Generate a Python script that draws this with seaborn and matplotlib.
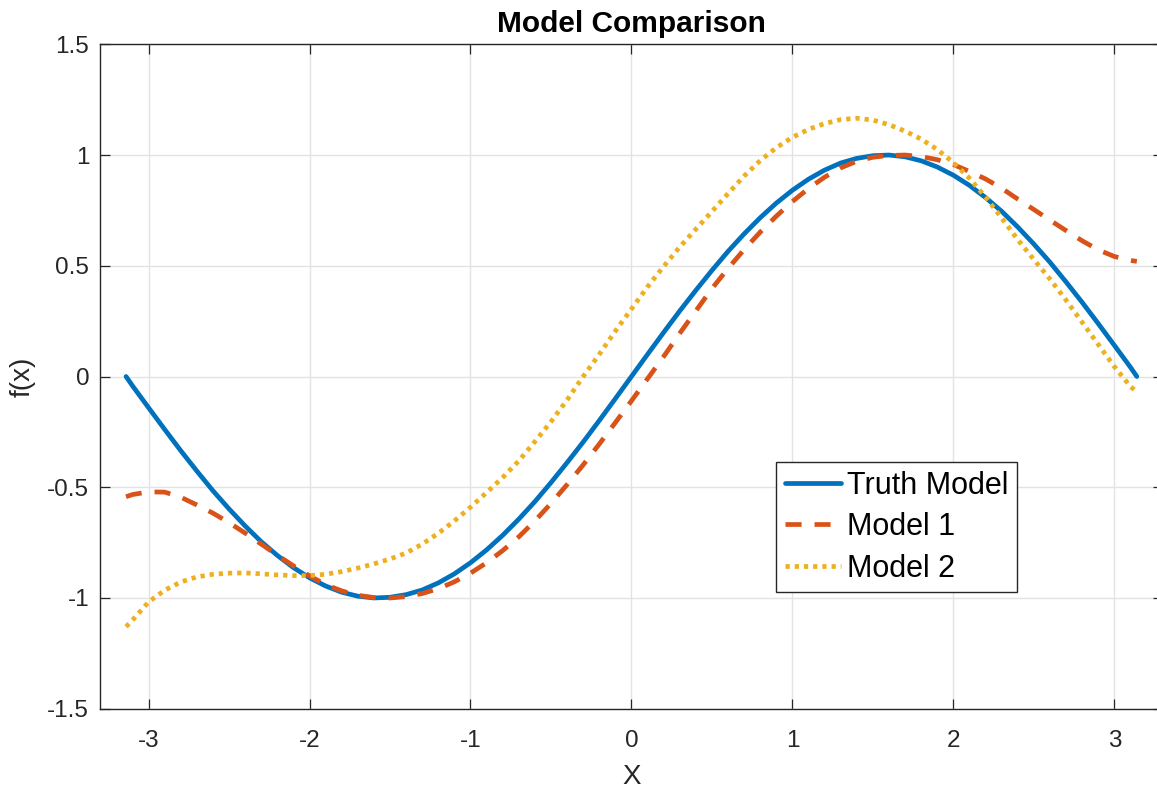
import numpy as np
import pandas as pd
import matplotlib
matplotlib.use("Agg")
import matplotlib.pyplot as plt
import seaborn as sns

# ---- data ----
x_vals = [-3.14, -3.1, -3.0, -2.9, -2.8, -2.7, -2.6, -2.5, -2.4, -2.3, -2.2, -2.1,
          -2.0, -1.9, -1.8, -1.7, -1.6, -1.5, -1.4, -1.3, -1.2, -1.1, -1.0, -0.9,
          -0.8, -0.7, -0.6, -0.5, -0.4, -0.3, -0.2, -0.1, 0.0, 0.1, 0.2, 0.3,
          0.4, 0.5, 0.6, 0.7, 0.8, 0.9, 1.0, 1.1, 1.2, 1.3, 1.4, 1.5,
          1.6, 1.7, 1.8, 1.9, 2.0, 2.1, 2.2, 2.3, 2.4, 2.5, 2.6, 2.7,
          2.8, 2.9, 3.0, 3.1, 3.14]
truth_vals = [0.0, -0.042, -0.141, -0.239, -0.335, -0.427, -0.516, -0.598, -0.675, -0.746, -0.808, -0.863,
              -0.909, -0.946, -0.974, -0.992, -1.0, -0.997, -0.985, -0.964, -0.932, -0.891, -0.841, -0.783,
              -0.717, -0.644, -0.565, -0.479, -0.389, -0.296, -0.199, -0.1, 0.0, 0.1, 0.199, 0.296,
              0.389, 0.479, 0.565, 0.644, 0.717, 0.783, 0.841, 0.891, 0.932, 0.964, 0.985, 0.997,
              1.0, 0.992, 0.974, 0.946, 0.909, 0.863, 0.808, 0.746, 0.675, 0.598, 0.516, 0.427,
              0.335, 0.239, 0.141, 0.042, 0.0]
model1_vals = [-0.543, -0.533, -0.521, -0.522, -0.545, -0.58, -0.617, -0.66, -0.707, -0.757, -0.807, -0.855,
               -0.9, -0.94, -0.968, -0.988, -0.998, -1.0, -0.994, -0.98, -0.958, -0.927, -0.888, -0.841,
               -0.786, -0.724, -0.652, -0.573, -0.488, -0.399, -0.305, -0.208, -0.11, -0.01, 0.09, 0.195,
               0.296, 0.397, 0.488, 0.573, 0.652, 0.724, 0.79, 0.849, 0.9, 0.942, 0.972, 0.99,
               0.998, 1.0, 0.993, 0.979, 0.957, 0.926, 0.892, 0.85, 0.801, 0.754, 0.706, 0.659,
               0.613, 0.572, 0.542, 0.524, 0.52]
model2_vals = [-1.13, -1.10, -1.018, -0.965, -0.928, -0.905, -0.893, -0.888, -0.887, -0.891, -0.896, -0.899,
               -0.899, -0.893, -0.881, -0.865, -0.846, -0.824, -0.797, -0.757, -0.708, -0.652, -0.59, -0.524,
               -0.456, -0.381, -0.294, -0.204, -0.106, 0.0, 0.10, 0.205, 0.305, 0.405, 0.497, 0.585,
               0.665, 0.745, 0.826, 0.905, 0.975, 1.033, 1.08, 1.116, 1.142, 1.16, 1.166, 1.158,
               1.137, 1.108, 1.072, 1.025, 0.966, 0.895, 0.81, 0.716, 0.618, 0.528, 0.44, 0.345,
               0.245, 0.145, 0.045, -0.045, -0.07]
series_names = ["Truth Model", "Model 1", "Model 2"]
x_ticks = [-3, -2, -1, 0, 1, 2, 3]
y_ticks = [-1.5, -1, -0.5, 0, 0.5, 1, 1.5]
y_tick_labels = ["-1.5", "-1", "-0.5", "0", "0.5", "1", "1.5"]

sns.set_theme(style="white")
plt.rcParams["font.family"] = ["Liberation Sans", "DejaVu Sans"]

W, H = 1157, 788
fig = plt.figure(figsize=(W / 100, H / 100), dpi=100)
ax = fig.add_axes([100.3 / W, (H - 708.7) / H, (1162.6 - 100.3) / W, (708.7 - 44.3) / H])

colors = ["#0072BD", "#D95319", "#EDB120"]
styles = ["-", (0, (3.4, 2.75)), (0, (0.9, 1.05))]
all_vals = [truth_vals, model1_vals, model2_vals]
for name, vals, c, ls in zip(series_names, all_vals, colors, styles):
    df = pd.DataFrame({"x": x_vals, "y": vals})
    sns.lineplot(data=df, x="x", y="y", ax=ax, color=c, linestyle=ls, linewidth=3.4,
                 label=name, estimator=None, sort=True, legend=True)

ax.set_xlim(-3.3, 3.3)
ax.set_ylim(-1.5, 1.5)
ax.set_xticks(x_ticks)
ax.set_xticklabels([str(t) for t in x_ticks])
ax.set_yticks(y_ticks)
ax.set_yticklabels(y_tick_labels)
ax.grid(True, color="#e3e3e3", linewidth=1.0)
ax.set_axisbelow(True)
for s in ax.spines.values():
    s.set_color("#262626")
    s.set_linewidth(1.0)
ax.tick_params(direction="in", length=7.5, width=0.9, color="#262626",
               labelsize=17.5, labelcolor="#262626", top=True, right=True,
               bottom=True, left=True)
ax.tick_params(axis="x", pad=15)
ax.tick_params(axis="y", pad=8)

ax.set_title("Model Comparison", fontsize=21.5, fontweight="bold", color="black", pad=9)
ax.set_xlabel("X", fontsize=20, color="#262626", labelpad=9)
ax.set_ylabel("f(x)", fontsize=20, color="#262626", labelpad=8)

leg = ax.legend(loc="upper left", bbox_to_anchor=(776 / W, 1 - 462 / H),
                bbox_transform=fig.transFigure, borderaxespad=0, fontsize=22,
                frameon=True, fancybox=False, shadow=False, framealpha=1,
                edgecolor="#262626", handlelength=1.86, handletextpad=0.18,
                borderpad=0.28, labelspacing=0.38, labelcolor="black")
leg.get_frame().set_linewidth(1.0)

fig.savefig("out.png", dpi=100)
